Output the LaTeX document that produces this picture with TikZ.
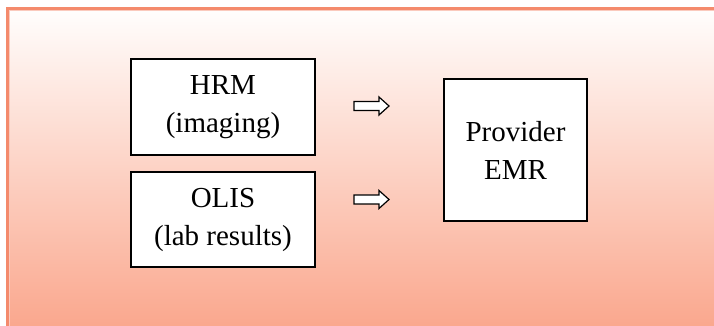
\documentclass[tikz,border=0pt]{standalone}
\usepackage{fontspec}
\setmainfont{Liberation Serif}
\newfontfamily\tnr{Liberation Serif}
\definecolor{framecol}{RGB}{244,138,108}
\definecolor{topcol}{RGB}{255,254,253}
\definecolor{botcol}{RGB}{250,166,140}
\tikzset{
  box/.style={draw=black, line width=1.4pt, fill=white, align=center,
    inner sep=0pt, font=\tnr\fontsize{29}{38}\selectfont},
  arrowbox/.style={draw=black, line width=1.2pt, fill=white, line join=miter},
}
\begin{document}
\begin{tikzpicture}[x=1pt,y=1pt]
\useasboundingbox (0,0) rectangle (714,326);
\clip (0,0) rectangle (714,326);
\fill[white] (0,0) rectangle (714,326);
% gradient background inside frame
\shade[top color=topcol, bottom color=botcol] (7.5,-5) rectangle (730,317.5);
\draw[framecol, line width=3pt] (730,317.5) -- (7.5,317.5) -- (7.5,-5);
\draw[framecol!45, line width=0.8pt] (730,315.6) -- (9.4,315.6) -- (9.4,-5);
% boxes
\node[box, minimum width=184pt, minimum height=96pt] (hrm) at (223,219) {HRM\\(imaging)};
\node[box, minimum width=184pt, minimum height=95pt] (olis) at (223,106.5) {OLIS\\(lab results)};
\node[box, minimum width=143pt, minimum height=142pt] (emr) at (515.5,176) {Provider\\EMR};
% block arrows
\coordinate (a1) at (371.5,220);
\coordinate (a2) at (371.5,126.5);
\foreach \c in {a1,a2}{
  \draw[arrowbox, shift={(\c)}] (-17.5,-4.5) -- (7.5,-4.5) -- (7.5,-9) -- (17.5,0)
     -- (7.5,9) -- (7.5,4.5) -- (-17.5,4.5) -- cycle;
}
\end{tikzpicture}
\end{document}
